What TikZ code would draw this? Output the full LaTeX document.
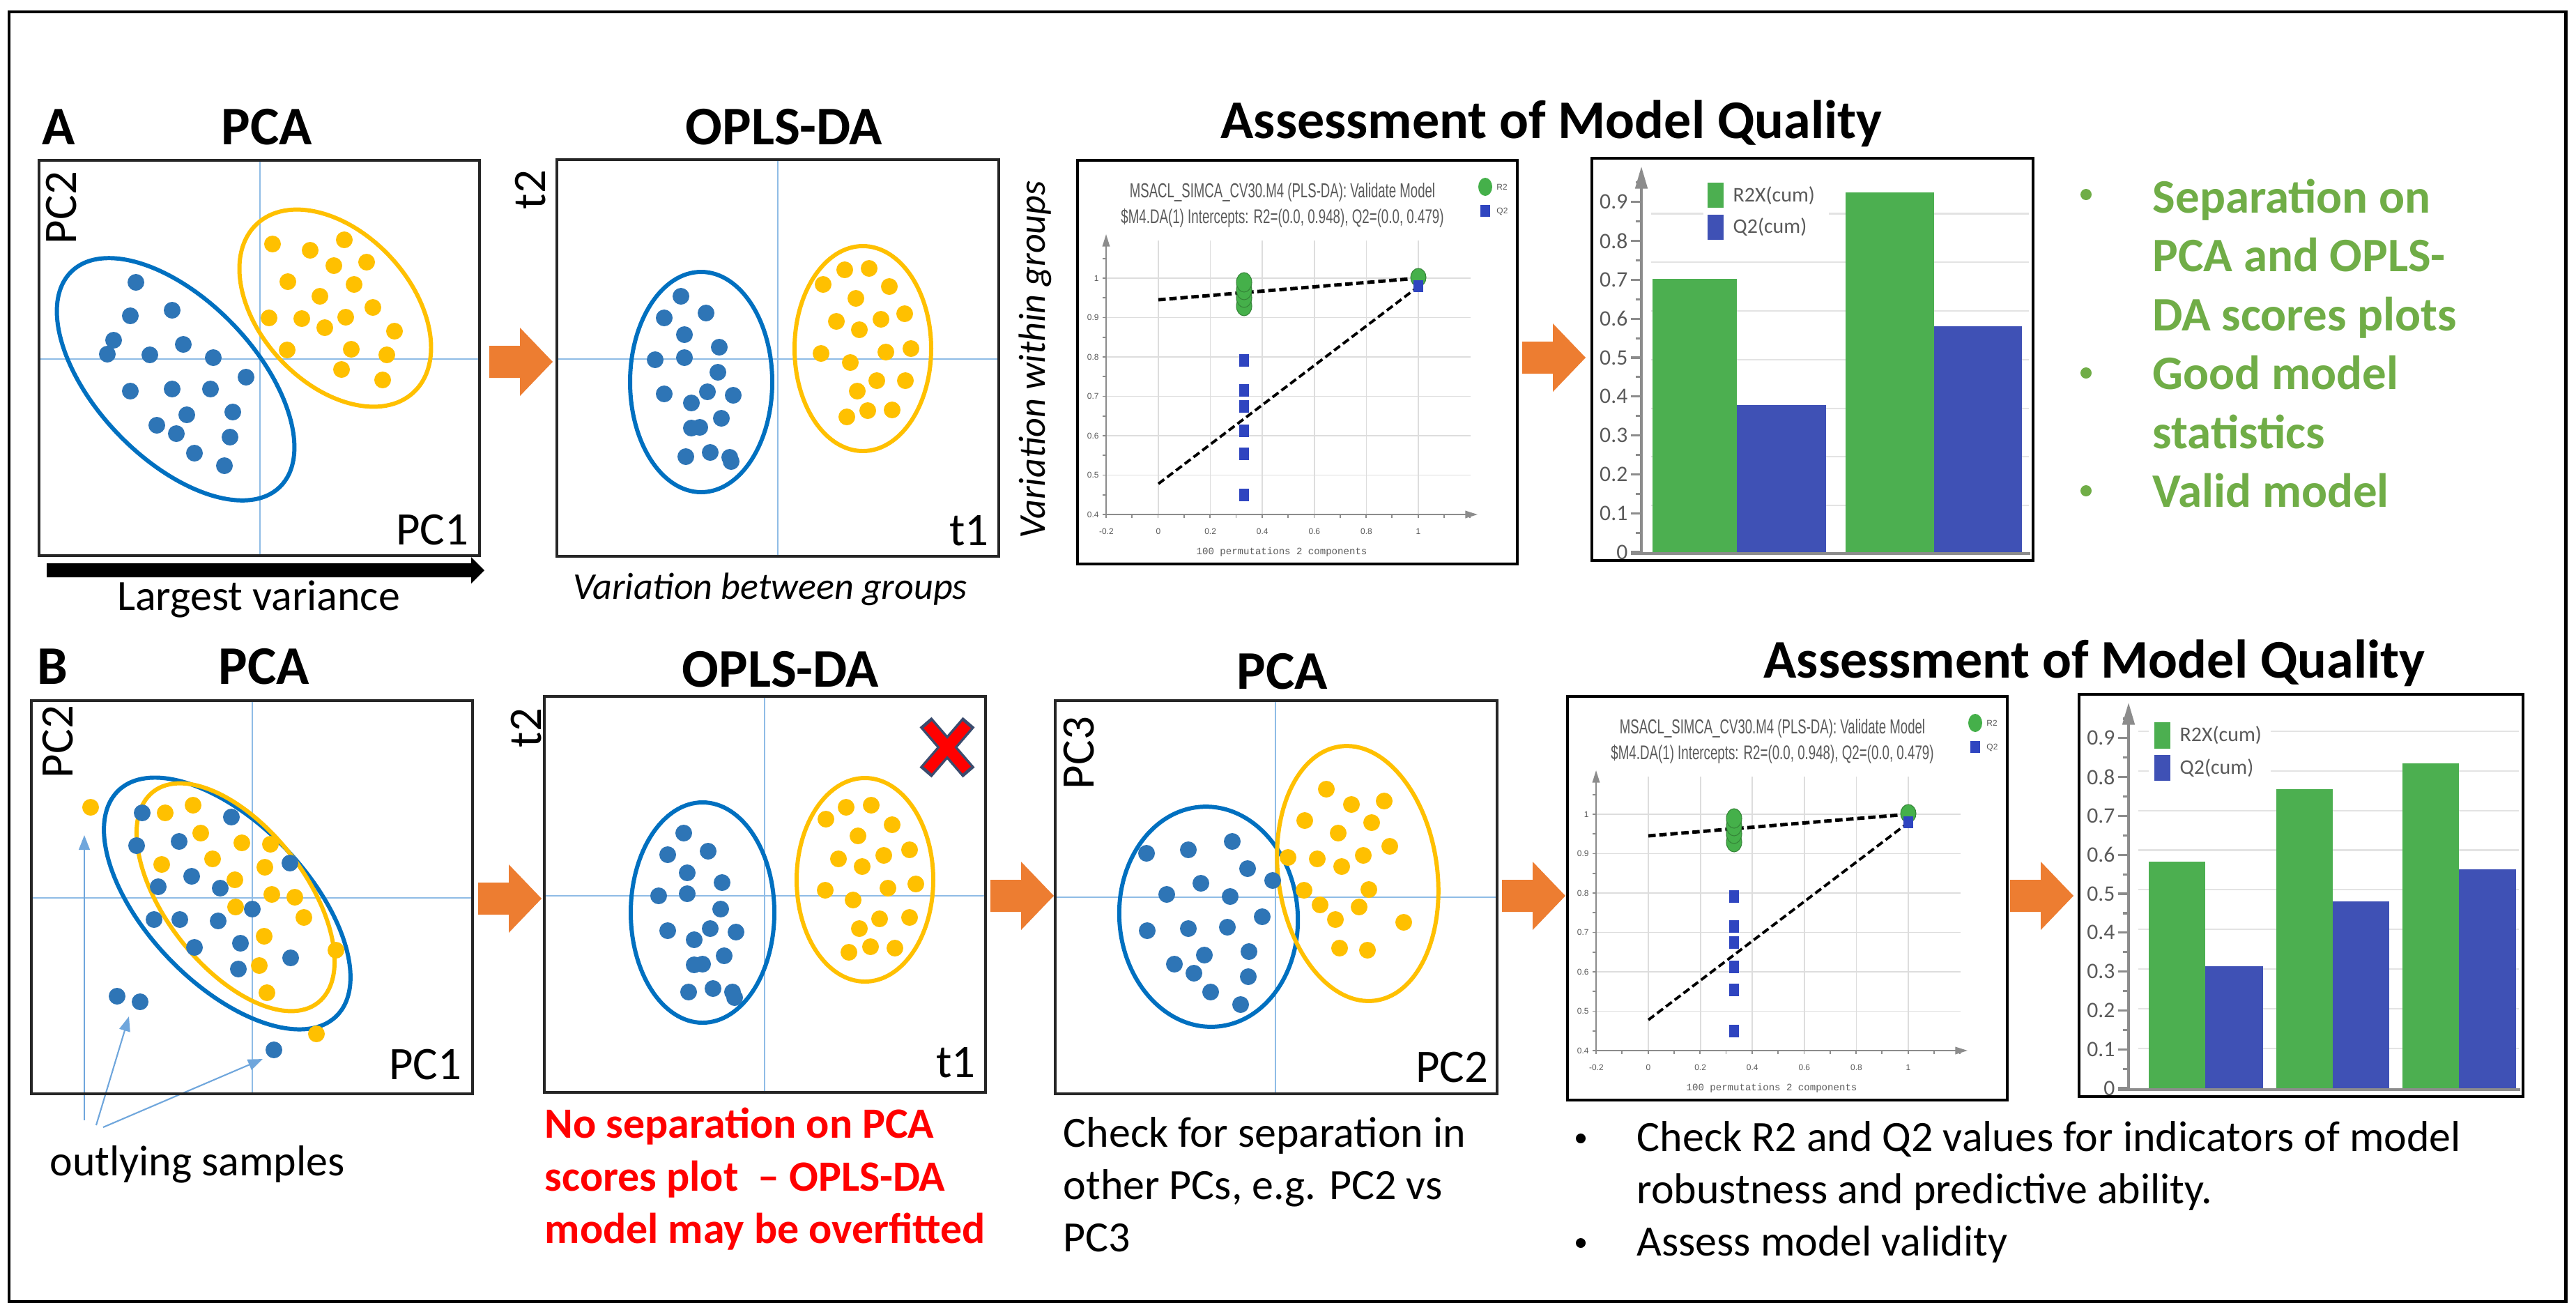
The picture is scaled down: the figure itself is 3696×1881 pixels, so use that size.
\documentclass[tikz,border=0pt]{standalone}
\usepackage{fontspec}
\setmainfont{Carlito}
\newfontfamily\permfont{Liberation Sans}
\newfontfamily\permmono{Liberation Mono}
\usetikzlibrary{arrows.meta}
\definecolor{dotblue}{HTML}{2E75B6}
\definecolor{ellblue}{HTML}{0070C0}
\definecolor{dotyel}{HTML}{FFC000}
\definecolor{axisblue}{HTML}{8FBCE6}
\definecolor{arrorange}{HTML}{ED7D31}
\definecolor{txtgreen}{HTML}{70AD47}
\definecolor{bargreen}{HTML}{4CAF50}
\definecolor{barblue}{HTML}{3F51B5}
\definecolor{permgreen}{HTML}{45B04A}
\definecolor{permblue}{HTML}{2F45C0}
\definecolor{gridgray}{HTML}{DDDDDD}
\definecolor{bargridc}{HTML}{E3E3E3}
\definecolor{axgray}{HTML}{8C8C8C}
\definecolor{ttlgray}{HTML}{5A5A5A}
\definecolor{xoutline}{HTML}{3B4C6E}
\definecolor{outblue}{HTML}{6FA6DC}
\newcommand\fs[1]{\fontsize{#1pt}{#1pt}\selectfont}
\newcommand\plotdots[2]{\foreach \px/\py in {#2}{\fill[#1] (\px,-\py) circle [radius=12];}}
\newcommand\orarrow[2]{\fill[arrorange] ({#1},{23-#2}) -- ++(44,0) -- ++(0,26) -- ++(47,-49) -- ++(-47,-49) -- ++(0,26) -- ++(-44,0) -- cycle;}
\tikzset{
 bdot/.style={fill=dotblue},
 ydot/.style={fill=dotyel},
 bell/.style={draw=ellblue,line width=1.7pt},
 yell/.style={draw=dotyel,line width=1.7pt},
 scorebox/.style={draw=black!85,line width=1.1pt},
 cline/.style={draw=axisblue,line width=0.6pt},
 ttl/.style={font=\fs{22.2}\bfseries,anchor=base,inner sep=0pt},
 axlab/.style={font=\fs{19},inner sep=0pt},
 bodytxt/.style={font=\fs{17.6},anchor=base west,inner sep=0pt},
 redtxt/.style={font=\fs{17.6}\bfseries,text=red,anchor=base west,inner sep=0pt},
 greentxt/.style={font=\fs{19.6}\bfseries,text=txtgreen,anchor=base west,inner sep=0pt},
 itxt/.style={font=\fs{15.4}\itshape,inner sep=0pt},
 permgrid/.style={draw=gridgray,line width=0.5pt},
 permaxis/.style={draw=axgray,line width=0.5pt},
 permtick/.style={font=\permfont\fs{3.4},text=ttlgray,inner sep=0.5pt},
 bargrid/.style={draw=bargridc,line width=0.6pt},
 baraxis/.style={draw=axgray,line width=0.9pt},
 bartick/.style={font=\fs{9},text=ttlgray,anchor=east,inner sep=0pt},
 barleg/.style={font=\fs{8.5},text=ttlgray,anchor=west,inner sep=0pt},
 outarr/.style={draw=outblue,fill=outblue,line width=0.6pt,-{Triangle[length=6pt,width=4.5pt]}},
}
\newcommand\permplot[1]{%
 \foreach \v in {0,0.2,0.4,0.6,0.8,1}{\draw[permgrid] ({1662+373*\v},-345) -- ({1662+373*\v},-738);}
 \foreach \v in {0.5,0.6,0.7,0.8,0.9,1}{\draw[permgrid] (1587,{-738+565*(\v-0.4)}) -- (2110,{-738+565*(\v-0.4)});}
 \foreach \k in {0,...,13}{\draw[permaxis] (1582,{-738+28.25*\k}) -- (1587,{-738+28.25*\k});}
 \foreach \k in {0,...,14}{\draw[permaxis] ({1587+37.3*\k},-738) -- ({1587+37.3*\k},-743);}
 \draw[permaxis,-{Triangle[length=5pt,width=3pt]}] (1587,-738) -- (1587,-336);
 \draw[permaxis,-{Triangle[length=5pt,width=3pt]}] (1587,-738) -- (2120,-738);
 \foreach \v/\l in {1/1,0.9/0.9,0.8/0.8,0.7/0.7,0.6/0.6,0.5/0.5,0.4/0.4}{\node[permtick,anchor=east] at (1579,{-738+565*(\v-0.4)}) {\l};}
 \foreach \v/\l in {-0.2/-0.2,0/0,0.2/0.2,0.4/0.4,0.6/0.6,0.8/0.8,1/1}{\node[permtick,anchor=north] at ({1662+373*\v},-756) {\l};}
 \node[permtick,font=\permmono\fs{4}] (#1-foot) at (1839,-792) {100 permutations 2 components};
 \node[anchor=base,inner sep=0pt,text=ttlgray] (#1-t1) at (1840,-283) {\resizebox{4.38cm}{0.21cm}{\permfont MSACL\_SIMCA\_CV30.M4 (PLS-DA): Validate Model}};
 \node[anchor=base,inner sep=0pt,text=ttlgray] (#1-t2) at (1840,-320) {\resizebox{4.63cm}{0.21cm}{\permfont \$M4.DA(1) Intercepts: R2=(0.0, 0.948), Q2=(0.0, 0.479)}};
 \fill[permgreen] (2131,-268) ellipse [x radius=10, y radius=13];
 \node[permtick,anchor=west] (#1-lr) at (2145,-268) {R2};
 \fill[permblue] (2124,-294) rectangle (2138,-311);
 \node[permtick,anchor=west] (#1-lq) at (2145,-303) {Q2};
 \draw[black,line width=1.4pt,dash pattern=on 3pt off 1.5pt] (1662,-430) -- (2035,-399);
 \draw[black,line width=1.1pt,dash pattern=on 3pt off 1.5pt] (1662,-694) -- (2035,-411);
 \foreach \y in {439,427,416,405}{\filldraw[fill=permgreen,draw=permgreen!75!black,line width=0.3pt] (1785,-\y) ellipse [x radius=11, y radius=14];}
 \filldraw[fill=permgreen,draw=permgreen!75!black,line width=0.3pt] (2035,-398) ellipse [x radius=11, y radius=13];
 \foreach \y in {517,560,583,618,651,710}{\fill[permblue] (1778,{9-\y}) rectangle (1792,{-9-\y});}
 \fill[permblue] (2028,-402) rectangle (2042,-419);
 \draw[line width=1.4pt] (1546,-230) rectangle (2177,-809);
}
\newcommand\barframe[2]{%
 \foreach \g in {#2}{\draw[bargrid] (85,{-565+558*\g}) -- ({#1-6},{-565+558*\g});}
 \foreach \k in {0,...,9}{\draw[baraxis] (56,{-565+55.8*\k}) -- (71,{-565+55.8*\k});}
 \foreach \k in {0,...,9}{\draw[baraxis] (63,{-537.1+55.8*\k}) -- (71,{-537.1+55.8*\k});}
 \foreach \k/\l in {0/0,1/0.1,2/0.2,3/0.3,4/0.4,5/0.5,6/0.6,7/0.7,8/0.8,9/0.9}{\node[bartick] at (52,{-565+55.8*\k}) {\l};}
 \draw[baraxis,-{Triangle[length=9pt,width=5pt]}] (71,-567) -- (71,-12);
 \draw[baraxis] (56,-567) -- ({#1-4},-567);
}
\begin{document}
\begin{tikzpicture}[x=0.01cm,y=0.01cm]
\useasboundingbox (0,0) rectangle (3696,-1881);
\fill[white] (0,0) rectangle (3696,-1881);
\draw[line width=1.4pt] (13,-17) rectangle (3681,-1867);

% ================= ROW A =================
\node[font=\fs{22.2}\bfseries,anchor=base west,inner sep=0pt] (labA) at (60,-207) {A};
\node[ttl] (ttlA1) at (383,-207) {PCA};
\node[ttl] (ttlA2) at (1125,-207) {OPLS-DA};
\node[ttl] (ttlA3) at (2226,-198) {Assessment of Model Quality};

% A PCA
\draw[cline] (373,-230) -- (373,-797);
\draw[cline] (56,-515) -- (688,-515);
\draw[bell] (252,-544) ellipse [x radius=215, y radius=114, rotate=-46];
\draw[yell] (481,-442) ellipse [x radius=165, y radius=108, rotate=-47];
\plotdots{bdot}{195/405,187/453,247/445,163/488,154/508,215/509,263/494,306/513,353/541,187/561,247/558,302/558,268/595,334/591,225/610,253/622,330/627,279/650,322/668}
\plotdots{ydot}{391/350,445/359,494/344,526/376,479/381,413/404,508/408,459/425,386/456,433/457,496/455,535/441,466/470,566/475,412/502,504/501,555/509,490/530,549/545}
\draw[scorebox] (56,-230) rectangle (688,-797);
\node[axlab,rotate=90] (pcaA-y) at (88,-298) {PC2};
\node[axlab,anchor=base east] (pcaA-x) at (673,-781) {PC1};
\fill[black] (67,-808) -- (676,-808) -- (676,-799) -- (695,-818) -- (676,-837) -- (676,-828) -- (67,-828) -- cycle;
\node[font=\fs{17.6},anchor=base,inner sep=0pt] (lv) at (371,-875) {Largest variance};

\orarrow{702}{519}

% A OPLS-DA
\draw[cline] (1116,-229) -- (1116,-798);
\draw[cline] (799,-515) -- (1433,-515);
\draw[bell] (1006,-548) ellipse [x radius=102, y radius=158];
\draw[yell] (1238,-500) ellipse [x radius=98, y radius=147];
\plotdots{bdot}{977/425,953/456,1013/449,982/480,1032/498,940/516,982/513,1030/534,953/565,1015/562,1052/567,992/578,1035/600,992/614,1004/613,984/655,1019/649,1047/656,1049/662}
\plotdots{ydot}{1181/408,1212/387,1247/385,1276/411,1228/428,1200/461,1264/458,1298/450,1233/473,1178/507,1220/520,1271/505,1307/500,1258/546,1299/546,1230/561,1245/589,1280/588,1215/598}
\draw[scorebox] (799,-229) rectangle (1433,-798);
\node[axlab,rotate=90] (oplsA-y) at (761,-272) {t2};
\node[axlab,anchor=base east] (oplsA-x) at (1419,-782) {t1};
\node[itxt,anchor=base] (vbg) at (1105,-859) {Variation between groups};
\node[itxt,rotate=90] (vwg) at (1485,-516) {Variation within groups};

% A permutation plot
\permplot{pA}

\orarrow{2184}{513}

% A bar chart
\begin{scope}[shift={(2284,-227)}]
 \barframe{633}{0.12,0.245,0.37,0.495,0.62,0.745,0.87}
 \fill[white] (160,-28) rectangle (340,-124);
 \fill[bargreen] (87,-565) rectangle (208,{-565+558*0.703});
 \fill[barblue] (208,-565) rectangle (336,{-565+558*0.379});
 \fill[bargreen] (364,-565) rectangle (491,{-565+558*0.925});
 \fill[barblue] (491,-565) rectangle (617,{-565+558*0.58});
 \fill[bargreen] (166,-35) rectangle (189,-71);
 \node[barleg] (bA-l1) at (202,-54) {R2X(cum)};
 \fill[barblue] (166,-81) rectangle (189,-117);
 \node[barleg] (bA-l2) at (202,-99) {Q2(cum)};
 \draw[line width=1.2pt] (0,0) rectangle (633,-577);
\end{scope}

% A green bullets
\foreach \yy in {279,535,704}{\fill[txtgreen] (2993,-\yy) circle [radius=8];}
\node[greentxt] (g1) at (3088,-305) {Separation on};
\node[greentxt] (g2) at (3088,-389) {PCA and OPLS-};
\node[greentxt] (g3) at (3088,-474) {DA scores plots};
\node[greentxt] (g4) at (3088,-558) {Good model};
\node[greentxt] (g5) at (3088,-643) {statistics};
\node[greentxt] (g6) at (3088,-727) {Valid model};

% ================= ROW B =================
\node[font=\fs{22.2}\bfseries,anchor=base west,inner sep=0pt] (labB) at (53,-981) {B};
\node[ttl] (ttlB1) at (379,-981) {PCA};
\node[ttl] (ttlB2) at (1120,-985) {OPLS-DA};
\node[ttl] (ttlB3) at (1840,-988) {PCA};
\node[ttl] (ttlB4) at (3005,-972) {Assessment of Model Quality};

% B PCA
\draw[cline] (362,-1005) -- (362,-1569);
\draw[cline] (45,-1288) -- (678,-1288);
\coordinate (oa1) at (121,-1607); \coordinate (ob1) at (121,-1198);
\coordinate (oa2) at (138,-1614); \coordinate (ob2) at (185,-1458);
\coordinate (oa3) at (148,-1617); \coordinate (ob3) at (377,-1519);
\draw[outarr] (oa1) -- (ob1);
\draw[outarr] (oa2) -- (ob2);
\draw[outarr] (oa3) -- (ob3);
\draw[bell] (326,-1296) ellipse [x radius=225, y radius=115, rotate=-46];
\draw[yell] (338,-1287) ellipse [x radius=192, y radius=100, rotate=-52];
\plotdots{bdot}{204/1166,196/1213,257/1207,332/1172,416/1238,275/1257,227/1272,316/1274,362/1304,221/1319,258/1319,313/1321,279/1359,345/1353,342/1390,417/1374,168/1429,201/1437,393/1506}
\plotdots{ydot}{130/1158,237/1166,277/1155,288/1195,347/1209,388/1211,232/1240,305/1232,380/1244,337/1262,390/1283,423/1287,338/1301,436/1316,379/1343,482/1363,372/1385,383/1424,454/1483}
\draw[scorebox] (45,-1005) rectangle (678,-1569);
\node[axlab,rotate=90] (pcaB-y) at (83,-1064) {PC2};
\node[axlab,anchor=base east] (pcaB-x) at (663,-1548) {PC1};
\node[font=\fs{17.6},anchor=base,inner sep=0pt] (outl) at (283,-1686) {outlying samples};

\orarrow{686}{1289}

% B OPLS-DA
\draw[cline] (1097,-999) -- (1097,-1567);
\draw[cline] (781,-1285) -- (1414,-1285);
\draw[bell] (1008,-1309) ellipse [x radius=103, y radius=158];
\draw[yell] (1241,-1262) ellipse [x radius=98, y radius=146];
\plotdots{bdot}{981/1195,958/1226,1016/1221,986/1252,1036/1266,945/1285,986/1282,1034/1304,958/1335,1019/1332,1056/1337,996/1348,1039/1371,996/1384,1008/1383,988/1423,1023/1418,1051/1423,1054/1431}
\plotdots{ydot}{1185/1175,1214/1158,1250/1155,1280/1183,1231/1199,1203/1232,1268/1227,1305/1219,1237/1243,1184/1277,1224/1291,1274/1274,1314/1268,1262/1318,1305/1316,1233/1332,1249/1358,1284/1360,1218/1366}
\draw[scorebox] (781,-999) rectangle (1414,-1567);
\node[axlab,rotate=90] (oplsB-y) at (755,-1044) {t2};
\node[axlab,anchor=base east] (oplsB-x) at (1400,-1545) {t1};
\begin{scope}[shift={(1359,-1072)}]
 \draw[xoutline,line width=6.4pt] (-31,-36) -- (31,36) (-31,36) -- (31,-36);
 \draw[red,line width=4.4pt] (-28,-32.5) -- (28,32.5) (-28,32.5) -- (28,-32.5);
\end{scope}
\node[redtxt] (r1) at (781,-1632) {No separation on PCA};
\node[redtxt] (r2) at (781,-1708) {scores plot \ – OPLS-DA};
\node[redtxt] (r3) at (781,-1783) {model may be overfitted};

\orarrow{1421}{1285}

% B PCA (PC2 vs PC3)
\draw[cline] (1830,-1005) -- (1830,-1569);
\draw[cline] (1514,-1287) -- (2148,-1287);
\draw[bell] (1734,-1315) ellipse [x radius=128, y radius=158, rotate=4];
\draw[yell] (1948,-1253) ellipse [x radius=114, y radius=184, rotate=8];
\plotdots{bdot}{1645/1224,1705/1219,1768/1207,1790/1246,1723/1267,1674/1283,1765/1286,1826/1263,1811/1315,1646/1335,1705/1332,1761/1330,1728/1370,1792/1365,1685/1383,1713/1396,1791/1401,1737/1423,1780/1441}
\plotdots{ydot}{1903/1132,1939/1154,1986/1149,1872/1177,1968/1180,1920/1195,1994/1214,1848/1230,1890/1232,1956/1227,1925/1243,1871/1277,1964/1276,1894/1298,1950/1301,1916/1319,2014/1323,1922/1360,1962/1363}
\draw[scorebox] (1514,-1005) rectangle (2148,-1569);
\node[axlab,rotate=90] (pcaC-y) at (1548,-1080) {PC3};
\node[axlab,anchor=base east] (pcaC-x) at (2136,-1552) {PC2};
\node[bodytxt] (c1) at (1525,-1645) {Check for separation in};
\node[bodytxt] (c2) at (1525,-1720) {other PCs, e.g. PC2 vs};
\node[bodytxt] (c3) at (1525,-1795) {PC3};

\orarrow{2155}{1285}

% B permutation plot
\begin{scope}[shift={(703,-769)}]
 \permplot{pB}
\end{scope}

\orarrow{2884}{1285}

% B bar chart
\begin{scope}[shift={(2983,-996)}]
 \barframe{637}{0.102,0.204,0.306,0.408,0.51,0.612,0.714,0.816,0.918}
 \fill[white] (100,-30) rectangle (275,-132);
 \fill[bargreen] (100,-565) rectangle (181,{-565+558*0.583});
 \fill[barblue] (181,-565) rectangle (264,{-565+558*0.313});
 \fill[bargreen] (283,-565) rectangle (364,{-565+558*0.768});
 \fill[barblue] (364,-565) rectangle (445,{-565+558*0.48});
 \fill[bargreen] (464,-565) rectangle (545,{-565+558*0.835});
 \fill[barblue] (545,-565) rectangle (627,{-565+558*0.563});
 \fill[bargreen] (108,-40) rectangle (131,-78);
 \node[barleg] (bB-l1) at (144,-59) {R2X(cum)};
 \fill[barblue] (108,-87) rectangle (131,-124);
 \node[barleg] (bB-l2) at (144,-106) {Q2(cum)};
 \draw[line width=1.2pt] (0,0) rectangle (637,-577);
\end{scope}

% B bullets
\fill[black] (2268,-1633) circle [radius=7];
\fill[black] (2268,-1783) circle [radius=7];
\node[bodytxt] (k1) at (2348,-1651) {Check R2 and Q2 values for indicators of model};
\node[bodytxt] (k2) at (2348,-1726) {robustness and predictive ability.};
\node[bodytxt] (k3) at (2348,-1801) {Assess model validity};
\end{tikzpicture}
\end{document}
